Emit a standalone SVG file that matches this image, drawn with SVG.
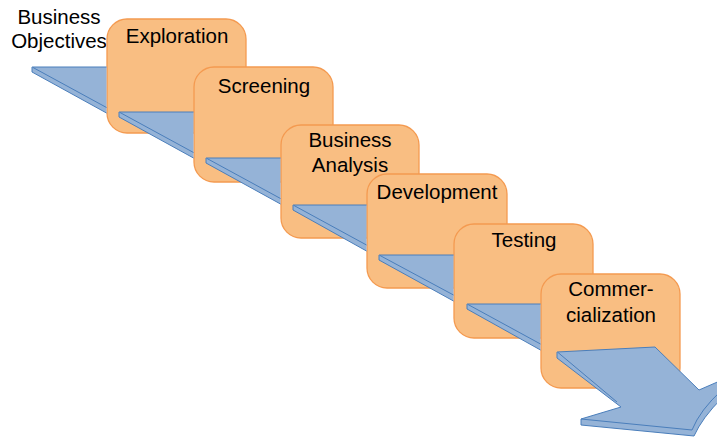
<svg xmlns="http://www.w3.org/2000/svg" width="717" height="438" viewBox="0 0 717 438">
<style>
.box{fill:#F9BE82;stroke:#F49A50;stroke-width:1.3}
.t{font-family:"Liberation Sans",Arial,sans-serif;font-size:20.5px;fill:#000;text-anchor:middle}
.face{fill:#95B3D7;stroke:none}
.side{fill:#95B3D7;stroke:none}
.edge{fill:none;stroke:#4A7EBB;stroke-width:1;stroke-linejoin:round}
</style>
<rect width="717" height="438" fill="#fff"/>
<g id="objectives">
<text class="t" x="59" y="24">Business</text>
<text class="t" x="59" y="48">Objectives</text>
</g>
<g id="exploration">
<rect class="box" x="107" y="19" width="139" height="114" rx="20"/>
<text class="t" x="177" y="43">Exploration</text>
</g>
<g id="screening">
<rect class="box" x="194" y="67" width="139" height="115" rx="20"/>
<text class="t" x="264" y="93">Screening</text>
</g>
<g id="business-analysis">
<rect class="box" x="281" y="125" width="138" height="113" rx="20"/>
<text class="t" x="350" y="147">Business</text>
<text class="t" x="350" y="172">Analysis</text>
</g>
<g id="development">
<rect class="box" x="367" y="174" width="140" height="114" rx="20"/>
<text class="t" x="437" y="199">Development</text>
</g>
<g id="testing">
<rect class="box" x="454" y="224" width="139" height="114" rx="20"/>
<text class="t" x="524" y="247">Testing</text>
</g>
<g id="commercialization">
<rect class="box" x="541" y="274" width="139" height="114" rx="20"/>
<text class="t" x="611" y="296">Commer-</text>
<text class="t" x="611" y="322">cialization</text>
</g>
<g id="connectors">
<g>
<path class="face" d="M32,67 L106.5,67 L106.5,113 L32,72 Z"/>
<path class="edge" d="M106.5,67 L32,67 L32,72 L106.5,113 M33,67.5 L106.5,107.5"/>
</g>
<g>
<path class="face" d="M119,112 L193.5,112 L193.5,158 L119,117 Z"/>
<path class="edge" d="M193.5,112 L119,112 L119,117 L193.5,158 M120,112.5 L193.5,152.5"/>
</g>
<g>
<path class="face" d="M206,158 L280.5,158 L280.5,204 L206,163 Z"/>
<path class="edge" d="M280.5,158 L206,158 L206,163 L280.5,204 M207,158.5 L280.5,198.5"/>
</g>
<g>
<path class="face" d="M293,205 L366.5,205 L366.5,251 L293,210 Z"/>
<path class="edge" d="M366.5,205 L293,205 L293,210 L366.5,251 M294,205.5 L366.5,245"/>
</g>
<g>
<path class="face" d="M379,255 L453.5,255 L453.5,301 L379,260 Z"/>
<path class="edge" d="M453.5,255 L379,255 L379,260 L453.5,301 M380,255.5 L453.5,295"/>
</g>
<g>
<path class="face" d="M467,304 L540.5,304 L540.5,350 L467,309 Z"/>
<path class="edge" d="M540.5,304 L467,304 L467,309 L540.5,350 M468,304.5 L540.5,344"/>
</g>
<g id="final-arrow">
<path class="face" d="M557,352 L655,347 L699,390 L722,380 L722,398 Q702,418 694,436 L581,425 L581,419 L621,407 L557,358 Z"/>
<path class="edge" d="M557,352 L655,347 L699,390 L722,380"/>
<path class="edge" d="M557,352 L557,358 L621,407 L581,419 L581,425 L694,436 Q702,418 722,398"/>
<path class="edge" d="M558,352.5 L617,402"/>
<path class="edge" d="M581,419 L692,430 Q700,410 722,390"/>
</g>
</g>
</svg>
